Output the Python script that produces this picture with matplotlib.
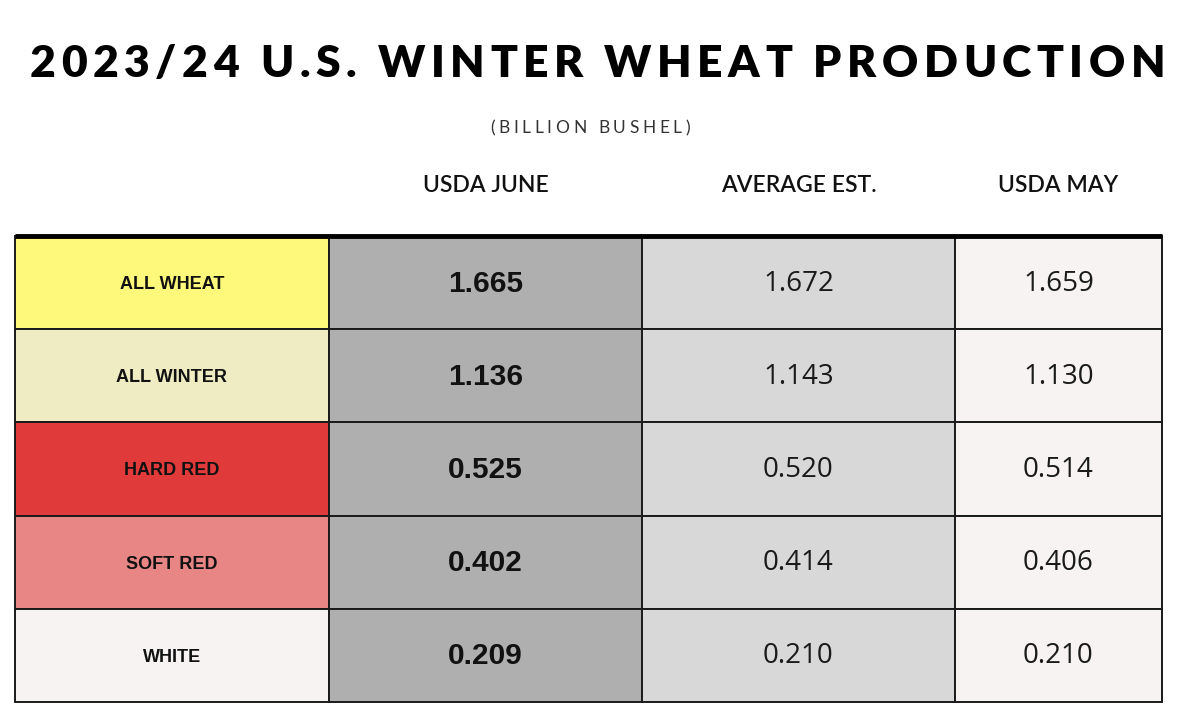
import matplotlib
matplotlib.use("Agg")
import matplotlib.pyplot as plt
from matplotlib.patches import Rectangle

# ---------------- data ----------------
title = "2023/24 U.S. WINTER WHEAT PRODUCTION"
subtitle = "(BILLION BUSHEL)"
columns = ["USDA JUNE", "AVERAGE EST.", "USDA MAY"]
categories = ["ALL WHEAT", "ALL WINTER", "HARD RED", "SOFT RED", "WHITE"]
usda_june = [1.665, 1.136, 0.525, 0.402, 0.209]
average_est = [1.672, 1.143, 0.520, 0.414, 0.210]
usda_may = [1.659, 1.130, 0.514, 0.406, 0.210]

# ---------------- style ----------------
W, H, DPI = 1181, 724, 100
cat_colors = ["#FEF97B", "#EFECC4", "#E03A3A", "#E88585", "#F6F3F2"]
col_colors = ["#AFAFAF", "#D8D8D8", "#F6F3F2"]
col_widths = [314, 313, 313, 207]

fig = plt.figure(figsize=(W / DPI, H / DPI), dpi=DPI)
fig.patch.set_facecolor("white")
renderer = fig.canvas.get_renderer()


def char_width(ch, **kw):
    if ch == " ":
        a = fig.text(0, 0, "H H", **kw)
        b = fig.text(0, 0, "HH", **kw)
        w = a.get_window_extent(renderer).width - b.get_window_extent(renderer).width
        a.remove(); b.remove()
        return w
    t = fig.text(0, 0, ch, **kw)
    w = t.get_window_extent(renderer).width
    t.remove()
    return w


def spaced_text(s, x0_px, x1_px, y_px, **kw):
    widths = [char_width(c, **kw) for c in s]
    gap = (x1_px - x0_px - sum(widths)) / (len(s) - 1)
    x = x0_px
    for c, w in zip(s, widths):
        if c != " ":
            fig.text(x / W, 1 - y_px / H, c, ha="left", va="center", **kw)
        x += w + gap


spaced_text(title, 30, 1165, 64, fontsize=32, fontweight="heavy",
            family=["Lato", "DejaVu Sans"], color="black")
spaced_text(subtitle, 490, 690, 128, fontsize=12.5, fontweight="normal",
            family=["Lato", "DejaVu Sans"], color="#333333")

# ---------------- table ----------------
x0, x1, y0, y1 = 15, 1162, 236, 702
ax = fig.add_axes([x0 / W, 1 - y1 / H, (x1 - x0) / W, (y1 - y0) / H])
total_w = sum(col_widths)
nrows = len(categories)
ax.set_xlim(0, total_w)
ax.set_ylim(nrows, 0)
ax.axis("off")

edges = [0]
for cw in col_widths:
    edges.append(edges[-1] + cw)
centers = [(edges[i] + edges[i + 1]) / 2 for i in range(len(col_widths))]

series = [usda_june, average_est, usda_may]
for r, cat in enumerate(categories):
    ax.add_patch(Rectangle((edges[0], r), col_widths[0], 1, facecolor=cat_colors[r],
                           edgecolor="#1a1a1a", lw=1.4, clip_on=False))
    ax.text(centers[0], r + 0.52, cat, ha="center", va="center", fontsize=13,
            fontweight="bold", family="Liberation Sans", color="#111111")
    for c, vals in enumerate(series):
        ax.add_patch(Rectangle((edges[c + 1], r), col_widths[c + 1], 1,
                               facecolor=col_colors[c], edgecolor="#1a1a1a", lw=1.4,
                               clip_on=False))
        if c == 0:
            ax.text(centers[c + 1], r + 0.51, f"{vals[r]:.3f}", ha="center", va="center",
                    fontsize=21.5, fontweight="bold", family="Liberation Sans",
                    color="#111111")
        else:
            ax.text(centers[c + 1], r + 0.51, f"{vals[r]:.3f}", ha="center", va="center",
                    fontsize=20, fontweight="normal", family="Open Sans",
                    color="#1a1a1a")

# thick top border
ax.plot([0, total_w], [0, 0], color="black", lw=3.5, solid_capstyle="butt", clip_on=False)

# column headers
for c, name in enumerate(columns):
    ax.text(centers[c + 1], -0.54, name, ha="center", va="center", fontsize=16.5,
            family="Lato", fontweight="semibold", color="#111111")

fig.savefig("out.png", dpi=DPI, facecolor="white")
